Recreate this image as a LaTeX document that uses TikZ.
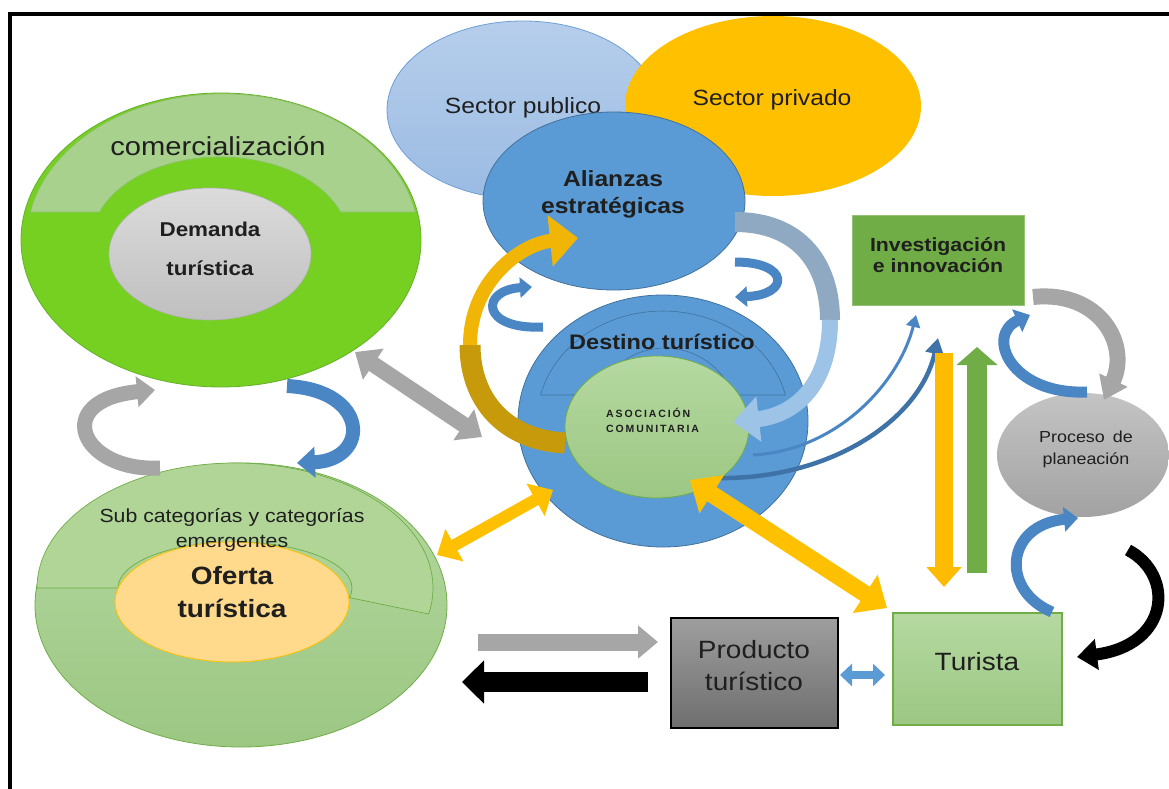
\documentclass[tikz,border=0pt]{standalone}
\usepackage{fontspec}
\setmainfont{Liberation Sans}[FakeStretch=1.12]
\newfontfamily\spacedfont{Liberation Sans}[LetterSpace=18]
\usetikzlibrary{arrows.meta,shapes.geometric}
\definecolor{comgreen}{HTML}{76D022}
\definecolor{comedge}{HTML}{66B02A}
\definecolor{bandgreen}{HTML}{A9D18E}
\definecolor{bandedge}{HTML}{8CC068}
\definecolor{lgtop}{HTML}{B5D9A1}
\definecolor{lgbot}{HTML}{9CC783}
\definecolor{lgedge}{HTML}{70AD47}
\definecolor{pubtop}{HTML}{B6CEEB}
\definecolor{pubbot}{HTML}{9BBBE3}
\definecolor{pubedge}{HTML}{6F9FD6}
\definecolor{privfill}{HTML}{FFC000}
\definecolor{blueM}{HTML}{5B9BD5}
\definecolor{blueD}{HTML}{41719C}
\definecolor{ofefill}{HTML}{FFD98C}
\definecolor{grayA}{HTML}{A6A6A6}
\definecolor{blueArr}{HTML}{4A86C4}
\definecolor{goldDark}{HTML}{C69A0A}
\definecolor{goldLight}{HTML}{F0B505}
\definecolor{bluegray}{HTML}{8FA9C2}
\definecolor{lightblue}{HTML}{9DC3E6}
\definecolor{yel}{HTML}{FFC000}
\definecolor{greenA}{HTML}{70AD47}
\definecolor{prodtop}{HTML}{9E9E9E}
\definecolor{prodbot}{HTML}{6E6E6E}
\definecolor{protop}{HTML}{C4C4C4}
\definecolor{probot}{HTML}{A2A2A2}
\newcommand{\fsz}[2]{\fontsize{#1}{#2}\selectfont}
\tikzset{
  ell/.style={ellipse, inner sep=0pt, outer sep=0pt},
  lbl/.style={align=center, inner sep=0pt, text=black!88},
  boxnode/.style={rectangle, inner sep=0pt, outer sep=0pt},
}
\begin{document}
\begin{tikzpicture}[x=1pt,y=-1pt]
\useasboundingbox (0,0) rectangle (1169,789);
\fill[white] (0,0) rectangle (1169,789);
% frame
\coordinate (fTR) at (1169,14); \coordinate (fTL) at (10,14); \coordinate (fBL) at (10,789);
\draw[line width=4pt, line join=miter] (fTR) -- (fTL) -- (fBL);

% sectors and alliances
\node[ell, minimum width=272pt, minimum height=178pt, draw=pubedge, line width=0.8pt, top color=pubtop, bottom color=pubbot] (pub) at (523,110) {};
\node[lbl, font=\fsz{22}{26}] (tpub) at (523,108) {Sector publico};
\node[ell, minimum width=296pt, minimum height=180pt, fill=privfill] (priv) at (773,106) {};
\node[lbl, font=\fsz{22}{26}] (tpriv) at (772,100) {Sector privado};
\node[ell, minimum width=262pt, minimum height=178pt, fill=blueM, draw=blueD, line width=0.8pt] (ali) at (614,201) {};
\node[lbl, font=\bfseries\fsz{22}{27}] (tali) at (613,194) {Alianzas\\estratégicas};

% comercializacion / demanda
\node[ell, minimum width=400pt, minimum height=294pt, fill=comgreen, draw=comedge, line width=0.8pt] (com) at (221,240) {};
\filldraw[fill=bandgreen, draw=bandedge, line width=0.6pt] (30.5,212) arc[start angle=169.0, end angle=11.0, x radius=196pt, y radius=146pt] -- (340.5,212) arc[start angle=19.7, end angle=160.3, x radius=128pt, y radius=83pt] -- cycle;
\node[lbl, font=\fsz{26}{30}] (tcom) at (218,146) {comercialización};
\node[ell, minimum width=202pt, minimum height=132pt, top color=gray!28, bottom color=gray!50, draw=gray!60, line width=0.6pt] (dem) at (210,254) {};
\node[lbl, font=\bfseries\fsz{20}{39}] (tdem) at (210,249) {Demanda\\turística};

% oferta
\node[ell, minimum width=412pt, minimum height=284pt, top color=lgtop, bottom color=lgbot, draw=lgedge, line width=0.8pt] (ofo) at (241,605) {};
\filldraw[fill=bandgreen!92!white, draw=lgedge, line width=0.7pt] (37,588) arc[start angle=180, end angle=-12, x radius=198pt, y radius=125pt] -- (349.4,597.6) arc[start angle=-12, end angle=180, x radius=117pt, y radius=46pt] -- cycle;
\node[ell, minimum width=234pt, minimum height=120pt, fill=ofefill, draw=yel, line width=0.8pt] (ofe) at (232,602) {};
\node[lbl, font=\fsz{19}{25}] (tsub) at (232,530) {Sub categorías y categorías\\emergentes};
\node[lbl, font=\bfseries\fsz{25}{33}] (tofe) at (232,592) {Oferta\\turística};

% destino
\node[ell, minimum width=290pt, minimum height=252pt, fill=blueM, draw=blueD, line width=0.8pt] (des) at (663,421) {};
\filldraw[fill=blueM, draw=blueD, line width=0.6pt] (540.6,395) arc[start angle=166.3, end angle=13.7, x radius=126pt, y radius=110pt] -- (733.2,395) arc[start angle=20.9, end angle=159.1, radius=73pt] -- cycle;
\node[lbl, font=\bfseries\fsz{21}{25}] (tdes) at (662,342) {Destino turístico};
\node[ell, minimum width=184pt, minimum height=142pt, top color=lgtop, bottom color=lgbot, draw=lgedge, line width=0.8pt] (aso) at (657,427) {};
\node[lbl, align=left, anchor=west, font=\spacedfont\bfseries\fsz{10.5}{15}] (taso) at (606,420) {ASOCIACIÓN\\COMUNITARIA};

% right side boxes
\node[boxnode, minimum width=172pt, minimum height=90pt, fill=greenA, draw=greenA!75!white, line width=0.8pt] (inv) at (938,260) {};
\node[lbl, font=\bfseries\fsz{19}{21}] (tinv) at (938,255) {Investigación\\e innovación};
\node[ell, minimum width=172pt, minimum height=124pt, top color=protop, bottom color=probot] (pro) at (1083,455) {};
\node[lbl, font=\fsz{16}{22}] (tpro) at (1086,449) {Proceso\hspace{0.5em}de\\planeación};
\node[boxnode, minimum width=167pt, minimum height=110pt, top color=prodtop, bottom color=prodbot, draw=black, line width=1.5pt] (prod) at (754.5,673) {};
\node[lbl, font=\fsz{25}{32}] (tprod) at (754,666) {Producto\\turístico};
\node[boxnode, minimum width=169pt, minimum height=112pt, top color=lgtop, bottom color=lgbot, draw=lgedge, line width=1.5pt] (tur) at (977.5,669) {};
\node[lbl, font=\fsz{25}{30}] (ttur) at (977,662) {Turista};

% ---- arrows ----
% A gray C arrow (left)
\coordinate (aT) at (160,468); \coordinate (aH) at (155,390);
\draw[grayA, line width=15pt, -{Triangle[width=30pt,length=18pt]}] (aT) .. controls (80,472) and (50,400) .. (aH);
% B blue C arrow
\coordinate (bT) at (287,386); \coordinate (bH) at (297,463);
\draw[blueArr, line width=14pt, -{Triangle[width=30pt,length=18pt]}] (bT) .. controls (370,390) and (370,460) .. (bH);
% C gray double arrow
\coordinate (cA) at (355,352); \coordinate (cB) at (482,437);
\draw[grayA, line width=16pt, {Triangle[width=36pt,length=22pt]}-{Triangle[width=36pt,length=22pt]}] (cA) -- (cB);
% D orange curved arrow
\coordinate (oT) at (565,443); \coordinate (oM) at (470,345); \coordinate (oH) at (578,238);
\draw[goldDark, line width=21pt] (oT) .. controls (505,440) and (470,400) .. (oM);
\draw[goldLight, line width=14pt, -{Triangle[width=50pt,length=28pt]}] (oM) .. controls (470,282) and (520,244) .. (oH);
% E blue-gray curved arrow
\coordinate (eT) at (735,222); \coordinate (eM) at (830,320); \coordinate (eH) at (733,422);
\draw[bluegray, line width=20pt] (eT) .. controls (800,222) and (830,265) .. (eM);
\draw[lightblue, line width=16pt, -{Triangle[width=44pt,length=26pt]}] (eM) .. controls (830,385) and (795,415) .. (eH);
% F, G small blue arrows
\coordinate (fT) at (543,327); \coordinate (fH) at (532,287);
\draw[blueArr, line width=9pt, -{Triangle[width=20pt,length=12pt]}] (fT) .. controls (480,330) and (480,290) .. (fH);
\coordinate (gT) at (735,262); \coordinate (gH) at (735,297);
\draw[blueArr, line width=9pt, -{Triangle[width=20pt,length=12pt]}] (gT) .. controls (790,262) and (790,295) .. (gH);
% H thin blue arrows to investigacion
\coordinate (h1T) at (753,455); \coordinate (h1H) at (916,315);
\draw[blueArr, line width=3pt, -{Triangle[width=14pt,length=12pt]}] (h1T) .. controls (840,450) and (900,380) .. (h1H);
\coordinate (h2T) at (717,478); \coordinate (h2H) at (938,338);
\draw[blueArr!85!black, line width=4.5pt, -{Triangle[width=18pt,length=16pt]}] (h2T) .. controls (830,480) and (920,420) .. (h2H);
% I yellow double arrow destino - oferta
\coordinate (iA) at (437,555); \coordinate (iB) at (553,490);
\draw[yel, line width=12pt, {Triangle[width=36pt,length=20pt]}-{Triangle[width=36pt,length=20pt]}] (iA) -- (iB);
% J yellow double arrow asociacion - turista
\coordinate (jA) at (690,480); \coordinate (jB) at (887,608);
\draw[yel, line width=17pt, {Triangle[width=44pt,length=26pt]}-{Triangle[width=44pt,length=26pt]}] (jA) -- (jB);
% K yellow down, L green up
\coordinate (kT) at (944,353); \coordinate (kH) at (944,587);
\draw[yel!92!orange, line width=18pt, -{Triangle[width=34pt,length=20pt]}] (kT) -- (kH);
\coordinate (lT) at (977,573); \coordinate (lH) at (977,347);
\draw[greenA, line width=20pt, -{Triangle[width=40pt,length=18pt]}] (lT) -- (lH);
% M gray curved (investigacion -> proceso)
\coordinate (mT) at (1033,297); \coordinate (mH) at (1104,400);
\draw[grayA, line width=16pt, -{Triangle[width=30pt,length=22pt]}] (mT) .. controls (1100,290) and (1130,345) .. (mH);
% N blue curved (proceso -> investigacion)
\coordinate (nT) at (1087,392); \coordinate (nH) at (1030,315);
\draw[blueArr, line width=11pt, -{Triangle[width=24pt,length=14pt]}] (nT) .. controls (1010,395) and (985,335) .. (nH);
% O blue curved (turista -> proceso)
\coordinate (pT) at (1052,612); \coordinate (pH) at (1078,518);
\draw[blueArr, line width=11pt, -{Triangle[width=24pt,length=14pt]}] (pT) .. controls (1000,590) and (1005,525) .. (pH);
% P black curved to turista
\coordinate (qT) at (1128,550); \coordinate (qH) at (1077,657);
\draw[black, line width=12pt, -{Triangle[width=30pt,length=20pt]}] (qT) .. controls (1175,575) and (1170,645) .. (qH);
% bottom straight arrows
\coordinate (rT) at (478,642); \coordinate (rH) at (658,642);
\draw[grayA, line width=17pt, -{Triangle[width=32pt,length=20pt]}] (rT) -- (rH);
\coordinate (sT) at (648,682); \coordinate (sH) at (462,682);
\draw[black, line width=20pt, -{Triangle[width=42pt,length=22pt]}] (sT) -- (sH);
\coordinate (uA) at (840,675); \coordinate (uB) at (885,675);
\draw[blueM, line width=8pt, {Triangle[width=22pt,length=12pt]}-{Triangle[width=22pt,length=12pt]}] (uA) -- (uB);
\end{tikzpicture}
\end{document}
